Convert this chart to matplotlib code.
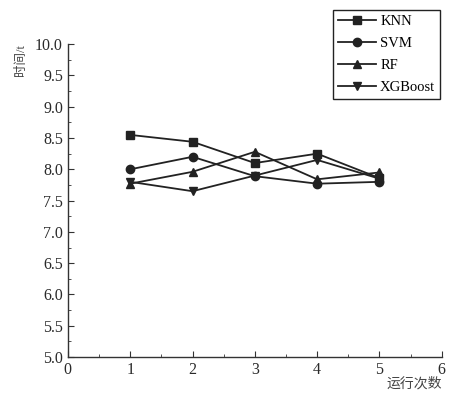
import matplotlib.pyplot as plt
from matplotlib.ticker import MultipleLocator

plt.rcParams["font.family"] = ["Liberation Serif", "Noto Sans CJK SC"]

runs = [1, 2, 3, 4, 5]
knn = [8.55, 8.44, 8.10, 8.25, 7.86]
svm = [8.00, 8.20, 7.89, 7.77, 7.80]
rf = [7.77, 7.96, 8.28, 7.84, 7.95]
xgb = [7.80, 7.65, 7.90, 8.15, 7.85]

series = [("KNN", knn, "s"), ("SVM", svm, "o"), ("RF", rf, "^"), ("XGBoost", xgb, "v")]
color = "#222222"

fig = plt.figure(figsize=(4.68, 3.98), dpi=100)
ax = fig.add_axes([0.145, 0.103, 0.799, 0.786])

for name, vals, m in series:
    ax.plot(runs, vals, marker=m, color=color, lw=1.3, ms=6, label=name)

ax.set_xlim(0, 6)
ax.set_ylim(5.0, 10.0)
ax.xaxis.set_major_locator(MultipleLocator(1))
ax.xaxis.set_minor_locator(MultipleLocator(0.5))
ax.yaxis.set_major_locator(MultipleLocator(0.5))
ax.yaxis.set_minor_locator(MultipleLocator(0.25))
ax.yaxis.set_major_formatter(plt.FormatStrFormatter("%.1f"))
ax.tick_params(which="both", direction="in", color="#333333", labelsize=11.5, labelcolor="#2a2a2a")
ax.tick_params(which="major", length=4)
ax.tick_params(which="minor", length=2.5)
for s in ["top", "right"]:
    ax.spines[s].set_visible(False)
for s in ["left", "bottom"]:
    ax.spines[s].set_color("#333333")
    ax.spines[s].set_linewidth(1.0)

fig.text(0.045, 0.89, "时间/t", rotation=90, ha="center", va="top", fontsize=9, color="#444444")
fig.text(0.944, 0.035, "运行次数", ha="right", va="center", fontsize=10, color="#444444")

leg = ax.legend(loc="upper right", bbox_to_anchor=(0.941, 0.975), bbox_transform=fig.transFigure,
                borderaxespad=0, fancybox=False, edgecolor="#222222", framealpha=1, fontsize=10.5,
                handlelength=2.6, borderpad=0.35, labelspacing=0.6, handletextpad=0.3)
leg.get_frame().set_linewidth(1.0)

fig.savefig("out.png", dpi=100)
